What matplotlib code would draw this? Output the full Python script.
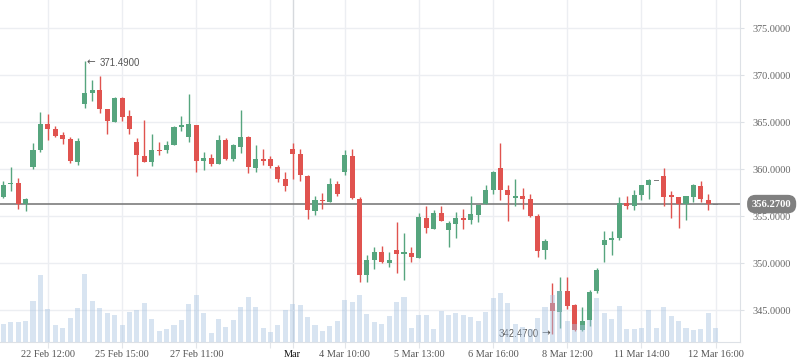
import numpy as np
import matplotlib.pyplot as plt
from matplotlib.transforms import blended_transform_factory

plt.rcParams['font.family'] = ['Liberation Serif', 'DejaVu Serif']

# candle data, one entry per bar
opens = [357.06, 358.45, 358.51, 356.28, 360.25, 362.02, 364.79, 364.26, 363.62, 363.19,
         360.78, 366.91, 368.12, 368.40, 366.38, 365.04, 367.59, 365.64, 362.87, 361.38,
         360.78, 362.00, 362.06, 362.59, 364.54, 363.44, 364.68, 360.89, 361.17, 360.53,
         363.09, 361.06, 362.38, 363.40, 360.14, 360.96, 361.06, 360.21, 358.94, 362.13,
         361.60, 359.26, 355.57, 356.70, 356.52, 358.40, 359.72, 361.38, 356.81, 348.76,
         350.32, 351.17, 350.04, 351.35, 350.99, 351.06, 350.57, 354.79, 353.65, 355.32,
         353.55, 354.18, 354.79, 354.61, 355.11, 356.24, 357.80, 360.07, 357.77, 357.02,
         357.13, 356.81, 355.00, 351.42, 345.74, 344.82, 347.02, 345.53, 342.91, 343.97,
         347.06, 351.91, 352.48, 352.62, 356.38, 356.10, 357.27, 358.33, 358.79, 359.26,
         357.23, 357.02, 356.28, 357.06, 358.19, 356.70, 356.22]
highs = [358.72, 360.21, 359.04, 356.91, 362.77, 366.06, 365.85, 364.57, 363.94, 363.40,
         363.26, 371.49, 369.47, 369.89, 366.38, 367.62, 367.70, 366.28, 363.33, 365.21,
         363.72, 362.84, 362.98, 364.57, 365.64, 367.98, 364.68, 361.81, 361.60, 363.62,
         363.30, 362.66, 366.28, 363.51, 362.55, 362.13, 361.38, 360.43, 359.68, 362.77,
         362.13, 359.36, 357.13, 357.45, 359.04, 358.72, 362.02, 362.13, 357.02, 350.85,
         351.70, 351.81, 351.17, 354.36, 353.19, 351.70, 355.32, 356.06, 355.64, 356.06,
         354.47, 355.43, 355.74, 357.13, 356.17, 358.30, 359.82, 362.77, 358.30, 358.94,
         357.98, 357.34, 355.21, 352.59, 347.87, 348.51, 348.51, 345.64, 345.28, 347.09,
         349.50, 353.40, 353.40, 357.02, 357.13, 357.77, 358.30, 358.94, 358.79, 360.11,
         357.66, 357.02, 357.13, 358.44, 358.72, 357.34, 356.22]
lows = [356.95, 357.66, 355.74, 355.57, 360.04, 361.84, 363.12, 363.44, 362.70, 360.64,
        360.46, 366.52, 367.27, 365.99, 363.72, 365.04, 365.14, 363.72, 359.29, 360.78,
        360.35, 361.52, 361.74, 362.59, 364.04, 362.91, 359.72, 359.93, 360.35, 360.53,
        360.96, 360.89, 361.74, 359.61, 359.72, 360.43, 360.14, 358.65, 357.70, 358.97,
        358.76, 354.72, 355.14, 355.78, 356.52, 357.16, 359.40, 356.84, 348.01, 348.01,
        349.40, 350.04, 349.61, 348.97, 348.23, 350.14, 350.57, 353.23, 353.65, 354.50,
        351.70, 352.70, 353.65, 354.18, 354.40, 356.24, 357.38, 356.74, 354.50, 356.06,
        355.78, 354.89, 350.67, 350.46, 342.47, 343.12, 345.14, 342.80, 342.80, 343.33,
        346.84, 350.07, 350.85, 352.48, 355.78, 355.67, 356.70, 356.81, 358.79, 356.06,
        354.82, 353.76, 354.61, 356.52, 356.52, 355.67, 356.22]
closes = [358.30, 358.50, 356.28, 356.81, 362.02, 364.79, 364.29, 363.55, 363.23, 360.85,
          362.98, 368.09, 368.40, 366.42, 365.14, 367.59, 365.57, 364.29, 361.52, 360.78,
          362.02, 361.95, 362.55, 364.47, 364.61, 364.79, 360.89, 361.17, 360.53, 363.09,
          361.10, 362.55, 363.40, 360.25, 361.06, 360.89, 360.35, 358.97, 358.23, 361.63,
          359.40, 355.67, 356.70, 356.63, 358.40, 357.38, 361.49, 356.95, 348.76, 350.32,
          351.17, 350.14, 350.32, 350.96, 351.10, 350.67, 354.89, 353.76, 355.32, 354.50,
          354.26, 354.79, 354.57, 355.21, 356.17, 357.77, 359.72, 357.80, 357.27, 357.09,
          356.84, 355.00, 351.31, 352.34, 344.93, 347.02, 345.46, 342.91, 343.79, 346.88,
          349.26, 352.45, 352.70, 356.38, 356.10, 357.23, 358.30, 358.83, 358.79, 357.06,
          357.06, 356.28, 357.13, 358.30, 356.84, 356.28, 356.22]
volumes = [55, 61, 61, 64, 124, 202, 100, 52, 43, 73, 103, 205, 124, 103, 88, 82, 52, 91, 97, 118,
           70, 34, 40, 52, 67, 115, 142, 88, 28, 70, 46, 67, 106, 136, 106, 43, 31, 52, 97, 115,
           112, 76, 52, 34, 49, 64, 127, 121, 142, 85, 61, 55, 79, 121, 136, 43, 82, 82, 40, 94,
           81, 86, 81, 75, 63, 91, 133, 148, 118, 55, 46, 40, 73, 106, 142, 152, 64, 55, 50, 66,
           133, 88, 70, 109, 40, 40, 43, 97, 43, 106, 79, 64, 43, 37, 40, 88, 43]
last_price = 356.27

tick_pos = [6, 16, 26, 36, 39, 46, 56, 66, 76, 86, 96]
tick_labels = ['22 Feb 12:00', '25 Feb 15:00', '27 Feb 11:00', '', 'Mar', '4 Mar 10:00',
               '5 Mar 13:00', '6 Mar 16:00', '8 Mar 12:00', '11 Mar 14:00', '12 Mar 16:00']
price_ticks = [345, 350, 355, 360, 365, 370, 375]

UP, DOWN, FLAT = '#56a57e', '#e0534f', '#7f7f7f'

o = np.array(opens); h = np.array(highs); l = np.array(lows); c = np.array(closes)
x = np.arange(len(o))
cols = np.where(c > o, UP, np.where(c < o, DOWN, FLAT))
body_lo = np.minimum(o, c)
body_h = np.abs(c - o)
thin = body_h < 0.18
body_lo = np.where(thin, (o + c) / 2 - 0.09, body_lo)
body_h = np.where(thin, 0.18, body_h)

fig = plt.figure(figsize=(7.98, 3.63), dpi=100)
ax = fig.add_axes([0, 21 / 363, 740 / 798, 342 / 363])

ax.vlines(x, l, h, colors=cols, lw=1.0, zorder=3)
ax.bar(x, body_h, bottom=body_lo, width=0.68, color=cols, linewidth=0, zorder=4)
ax.axhline(last_price, color='#7d7d7d', lw=1.2, zorder=2)

ax.set_xlim(-0.45, 99.28)
ax.set_ylim(341.6, 377.98)

# volume bars on top, semi transparent
ax2 = ax.twinx()
ax2.bar(x, volumes, width=0.68, color='#a9c4e2', alpha=0.45, linewidth=0)
ax2.set_ylim(0, 1026)
ax2.set_yticks([])
for s in ax2.spines.values():
    s.set_visible(False)

# axes look (after twinx, which moves the ticks to the left)
for s in ['left', 'top']:
    ax.spines[s].set_visible(False)
for s in ['right', 'bottom']:
    ax.spines[s].set_color('#dde1e6')
ax.yaxis.tick_right()
ax.set_yticks(price_ticks)
ax.set_yticklabels(['%.4f' % p for p in price_ticks])
ax.set_xticks(tick_pos)
ax.set_xticklabels(tick_labels)
ax.tick_params(axis='y', length=3, color='#dde1e6', pad=6, labelsize=7.4, labelcolor='#666666')
ax.tick_params(axis='x', length=4, color='#e3e6ea', pad=2, labelsize=7.4, labelcolor='#555555')
ax.grid(True, color='#eceef2', lw=1.0, zorder=0)
ax.set_axisbelow(True)
for t, lab in zip(ax.get_xgridlines(), tick_labels):
    if lab == 'Mar':
        t.set_color('#d6d9dd')
for t in ax.get_xticklabels():
    if t.get_text() == 'Mar':
        t.set_color('#111111')

# high / low markers
hi = int(np.argmax(h)); lo = int(np.argmin(l))
num_font = dict(family=['Liberation Sans', 'DejaVu Sans'], size=6.9, color='#555555')
arr_font = dict(family=['DejaVu Sans'], size=7.5, color='#555555')
ax.annotate('\u2190', xy=(hi, h[hi]), xytext=(1.2, -1.0), textcoords='offset points',
            ha='left', va='center', zorder=6, **arr_font)
ax.annotate('%.4f' % h[hi], xy=(hi, h[hi]), xytext=(10.3, -1.2), textcoords='offset points',
            ha='left', va='center', zorder=6, **num_font)
ax.annotate('\u2192', xy=(lo, l[lo]), xytext=(-2.0, 0.2), textcoords='offset points',
            ha='right', va='center', zorder=6, **arr_font)
ax.annotate('%.4f' % l[lo], xy=(lo, l[lo]), xytext=(-9.5, 0), textcoords='offset points',
            ha='right', va='center', zorder=6, **num_font)

# last price tag
tr = blended_transform_factory(ax.transAxes, ax.transData)
ax.text(1.016, last_price, '%.4f' % last_price, transform=tr, ha='left', va='center',
        color='white', fontsize=7.6, fontweight='bold', clip_on=False, zorder=10,
        bbox=dict(boxstyle='round,pad=0.45,rounding_size=0.8', fc='#808080', ec='none'))

fig.savefig('out.png', dpi=100)
